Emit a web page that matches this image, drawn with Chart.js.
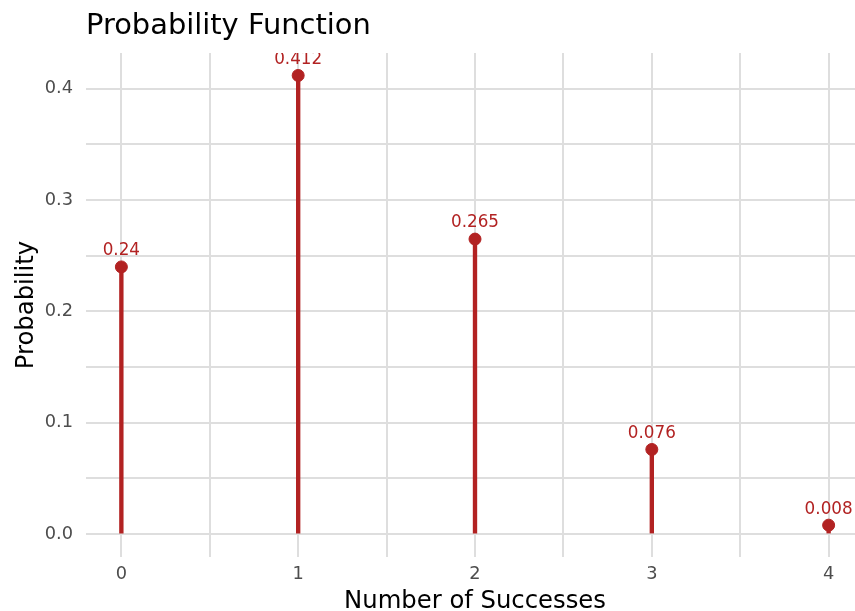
<!DOCTYPE html>
<html>
<head>
<meta charset="utf-8">
<script src="https://cdn.jsdelivr.net/npm/chart.js@4.4.1/dist/chart.umd.min.js"></script>
<style>
  html, body { margin: 0; padding: 0; background: #fff; overflow: hidden; }
  #wrap { width: 864px; height: 611px; }
</style>
</head>
<body>
<div id="wrap"><canvas id="myChart" width="864" height="611"></canvas></div>
<script>
// data
const successes = [0, 1, 2, 3, 4];
const probs = [0.24, 0.412, 0.265, 0.076, 0.008];
const probLabels = ['0.24', '0.412', '0.265', '0.076', '0.008'];
const xTicks = [0, 0.5, 1, 1.5, 2, 2.5, 3, 3.5, 4];
const yTicks = [0, 0.05, 0.1, 0.15, 0.2, 0.25, 0.3, 0.35, 0.4];

const RED = '#b22222';
const FONT = '"DejaVu Sans", sans-serif';

const points = successes.map((x, i) => ({ x: x, y: probs[i] }));

// value labels above points, clipped to the panel like ggplot does
const pointLabels = {
  id: 'pointLabels',
  afterDatasetsDraw(chart) {
    const ctx = chart.ctx;
    const area = chart.chartArea;
    const meta = chart.getDatasetMeta(0);
    ctx.save();
    ctx.beginPath();
    ctx.rect(area.left, area.top, area.right - area.left, area.bottom - area.top);
    ctx.clip();
    ctx.font = '16.8px ' + FONT;
    ctx.fillStyle = RED;
    ctx.textAlign = 'center';
    ctx.textBaseline = 'alphabetic';
    meta.data.forEach(function(pt, i) {
      ctx.fillText(probLabels[i], pt.x, pt.y - 11.6);
    });
    ctx.restore();
  }
};

const config = {
  type: 'bar',
  data: {
    datasets: [
      {
        type: 'scatter',
        data: points,
        order: 0,
        pointRadius: 6,
        pointBorderWidth: 1,
        backgroundColor: RED,
        borderColor: RED
      },
      {
        type: 'bar',
        data: points,
        order: 1,
        barThickness: 3.7,
        backgroundColor: RED,
        borderWidth: 0
      }
    ]
  },
  options: {
    responsive: false,
    animation: false,
    layout: { padding: 0, autoPadding: false },
    plugins: {
      legend: { display: false },
      tooltip: { enabled: false },
      title: {
        display: true,
        text: 'Probability Function',
        align: 'start',
        fullSize: false,
        color: '#000',
        font: { family: FONT, size: 28.9, weight: 'normal', lineHeight: 1.2 },
        padding: { top: 9.5, bottom: 8.8 }
      }
    },
    scales: {
      x: {
        type: 'linear',
        min: -0.2,
        max: 4.2,
        offset: false,
        afterBuildTicks: function(axis) {
          axis.ticks = xTicks.map(v => ({ value: v }));
        },
        afterFit: function(axis) { axis.height = 54; },
        grid: { offset: false, drawTicks: false, color: '#dedede', lineWidth: 2 },
        border: { display: false },
        ticks: {
          padding: 7,
          color: '#4d4d4d',
          font: { family: FONT, size: 17.8 },
          maxRotation: 0,
          autoSkip: false,
          callback: function(v) { return Number.isInteger(v) ? String(v) : ''; }
        },
        title: {
          display: true,
          text: 'Number of Successes',
          color: '#000',
          font: { family: FONT, size: 24.3, lineHeight: 0.8 },
          padding: { top: 0, bottom: 0 }
        }
      },
      y: {
        min: -0.0206,
        max: 0.4322,
        afterBuildTicks: function(axis) {
          axis.ticks = yTicks.map(v => ({ value: v }));
        },
        afterFit: function(axis) { axis.width = 86; },
        grid: { drawTicks: false, color: '#dedede', lineWidth: 2 },
        border: { display: false },
        ticks: {
          padding: 13,
          color: '#4d4d4d',
          font: { family: FONT, size: 17.8 },
          autoSkip: false,
          callback: function(v) {
            const k = Math.round(v * 100);
            return k % 10 === 0 ? (k / 100).toFixed(1) : '';
          }
        },
        title: {
          display: true,
          text: 'Probability',
          color: '#000',
          font: { family: FONT, size: 24.3, lineHeight: 1.2 },
          padding: { top: 12, bottom: 0 }
        }
      }
    }
  },
  plugins: [pointLabels]
};

const myChart = new Chart(document.getElementById('myChart'), config);
</script>
</body>
</html>
